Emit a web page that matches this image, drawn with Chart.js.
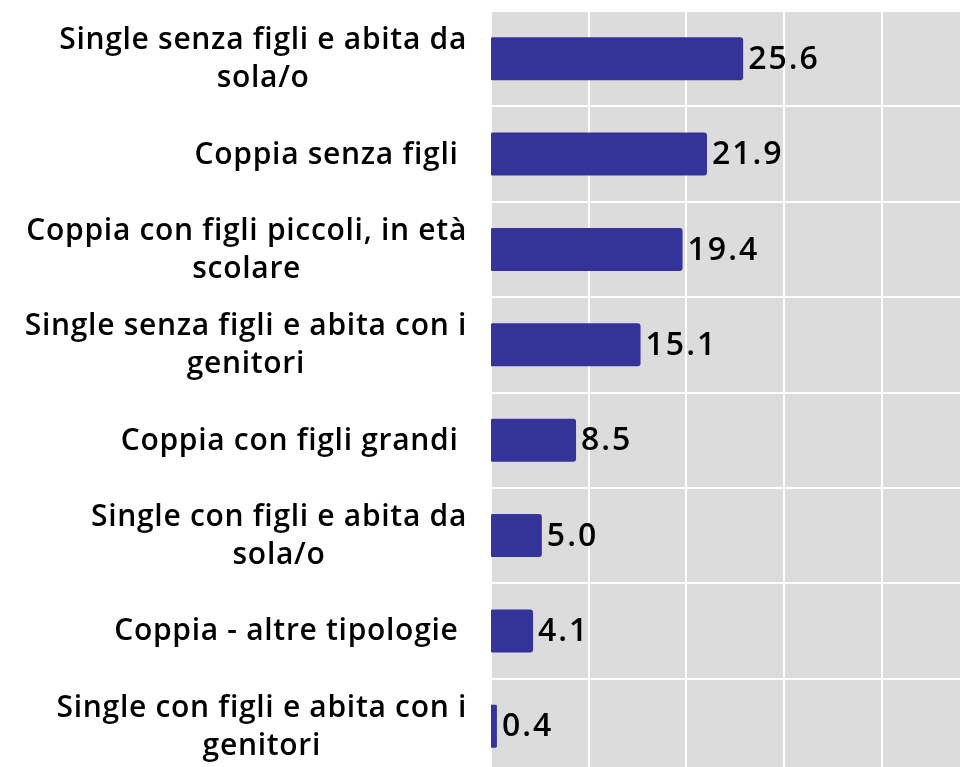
<!DOCTYPE html>
<html>
<head>
<meta charset="utf-8">
<script src="https://cdn.jsdelivr.net/npm/chart.js@4"></script>
<style>
  html, body { margin: 0; padding: 0; background: #fff; overflow: hidden; }
</style>
</head>
<body>
<canvas id="barChart" width="960" height="774"></canvas>
<script>
// categories, top to bottom; each entry is the lines of the label
const categories = [
  ['Single senza figli e abita da', 'sola/o'],
  ['Coppia senza figli '],
  ['Coppia con figli piccoli, in età', 'scolare'],
  ['Single senza figli e abita con i', 'genitori'],
  ['Coppia con figli grandi '],
  ['Single con figli e abita da', 'sola/o'],
  ['Coppia - altre tipologie '],
  ['Single con figli e abita con i', 'genitori']
];
const values = [25.6, 21.9, 19.4, 15.1, 8.5, 5.0, 4.1, 0.4];
const gridValues = [0, 10, 20, 30, 40];
const axisMax = 48;

const labelFont = '600 30px "Open Sans"';
const valueFont = '600 32px "Open Sans"';

// grey plot background
const plotBackground = {
  id: 'plotBackground',
  beforeDraw(chart) {
    const { ctx, chartArea: a } = chart;
    ctx.save();
    ctx.fillStyle = '#dcdcdc';
    ctx.fillRect(a.left, a.top, a.right - a.left, a.bottom - a.top);
    ctx.restore();
  }
};

// category labels: lines centred on each other, block right-aligned
const categoryLabels = {
  id: 'categoryLabels',
  afterDraw(chart) {
    const ctx = chart.ctx;
    const yScale = chart.scales.y;
    const rightEdge = 467;
    const lineH = 38;
    ctx.save();
    ctx.font = labelFont;
    ctx.letterSpacing = '0.7px';
    ctx.fillStyle = '#000';
    ctx.textAlign = 'center';
    ctx.textBaseline = 'middle';
    categories.forEach((lines, i) => {
      const y = yScale.getPixelForValue(i);
      const maxW = Math.max(...lines.map(l => ctx.measureText(l).width));
      const cx = rightEdge - maxW / 2;
      const y0 = y - (lines.length - 1) * lineH / 2;
      lines.forEach((l, j) => ctx.fillText(l, cx, y0 + 1 + j * lineH));
    });
    ctx.restore();
  }
};

// value labels at the end of each bar
const valueLabels = {
  id: 'valueLabels',
  afterDatasetsDraw(chart) {
    const ctx = chart.ctx;
    const meta = chart.getDatasetMeta(0);
    ctx.save();
    ctx.font = valueFont;
    ctx.letterSpacing = '2px';
    ctx.fillStyle = '#000';
    ctx.textAlign = 'left';
    ctx.textBaseline = 'middle';
    meta.data.forEach((bar, i) => {
      ctx.fillText(values[i].toFixed(1), bar.x + 7, bar.y + 1);
    });
    ctx.restore();
  }
};

const ctx = document.getElementById('barChart').getContext('2d');

const chart = new Chart(ctx, {
  type: 'bar',
  data: {
    labels: categories.map(l => l.join(' ')),
    datasets: [{
      data: values,
      backgroundColor: '#333399',
      barThickness: 39,
      inflateAmount: 2,
      borderRadius: 3,
      borderSkipped: false
    }]
  },
  options: {
    indexAxis: 'y',
    responsive: false,
    animation: false,
    layout: { padding: { left: 491, top: 11, right: 0, bottom: 0 } },
    plugins: {
      legend: { display: false },
      tooltip: { enabled: false }
    },
    scales: {
      x: {
        min: 0,
        max: axisMax,
        afterBuildTicks: axis => {
          axis.ticks = gridValues.map(v => ({ value: v }));
        },
        ticks: { display: false },
        border: { display: false },
        grid: { color: '#ffffff', lineWidth: 2, drawTicks: false }
      },
      y: {
        ticks: { display: false },
        border: { display: false },
        grid: { color: '#ffffff', lineWidth: 2, drawTicks: false }
      }
    }
  },
  plugins: [plotBackground, categoryLabels, valueLabels]
});
</script>
</body>
</html>
